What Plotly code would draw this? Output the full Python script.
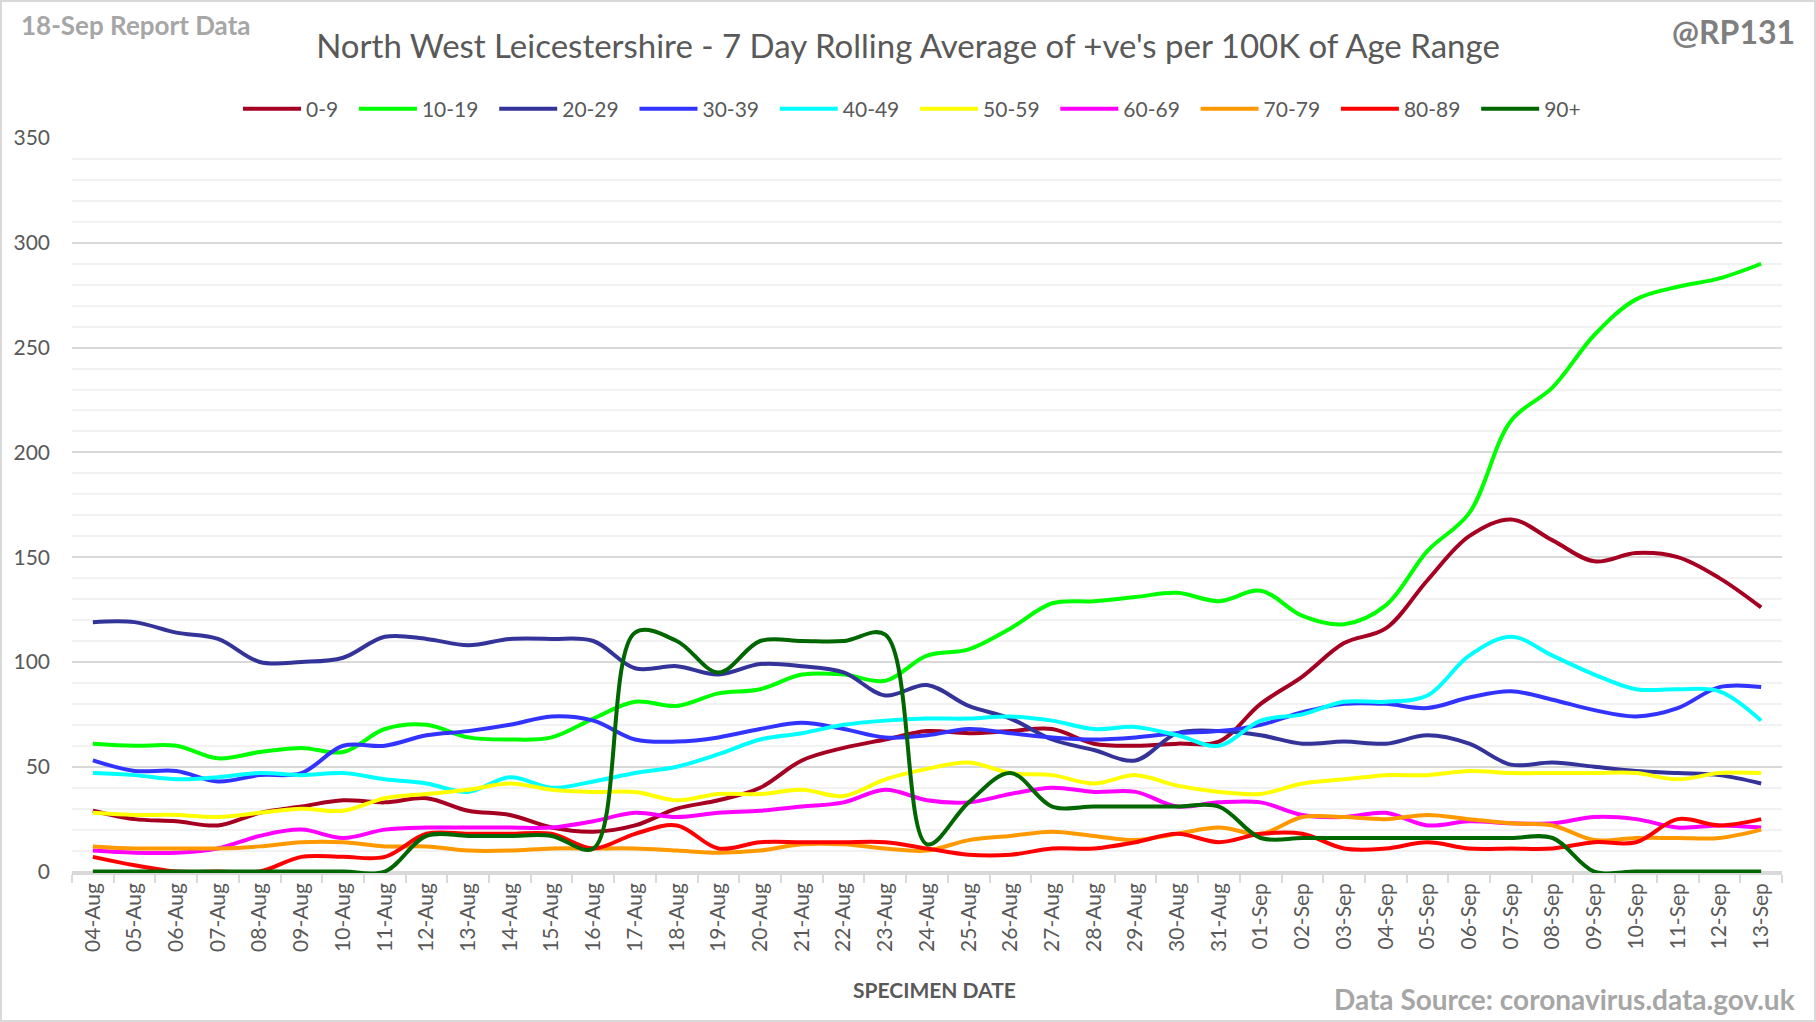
import plotly.graph_objects as go

# ---------------- data ----------------
dates = ["04-Aug", "05-Aug", "06-Aug", "07-Aug", "08-Aug", "09-Aug", "10-Aug",
         "11-Aug", "12-Aug", "13-Aug", "14-Aug", "15-Aug", "16-Aug", "17-Aug",
         "18-Aug", "19-Aug", "20-Aug", "21-Aug", "22-Aug", "23-Aug", "24-Aug",
         "25-Aug", "26-Aug", "27-Aug", "28-Aug", "29-Aug", "30-Aug", "31-Aug",
         "01-Sep", "02-Sep", "03-Sep", "04-Sep", "05-Sep", "06-Sep", "07-Sep",
         "08-Sep", "09-Sep", "10-Sep", "11-Sep", "12-Sep", "13-Sep"]

age_0_9 = [29, 25, 24, 22, 28, 31, 34, 33, 35, 29, 27, 21, 19, 22, 30, 34, 40, 53, 59, 63, 67,
           66, 67, 68, 61, 60, 61, 62, 80, 93, 109, 116, 139, 160, 168, 158, 148, 152, 150, 140, 126]
age_10_19 = [61, 60, 60, 54, 57, 59, 57, 68, 70, 64, 63, 64, 73, 81, 79, 85, 87, 94, 94, 91, 103,
             106, 116, 128, 129, 131, 133, 129, 134, 122, 118, 127, 153, 171, 215, 231, 256, 273, 279, 283, 290]
age_20_29 = [119, 119, 114, 111, 100, 100, 102, 112, 111, 108, 111, 111, 110, 97, 98, 94, 99, 98, 95, 84, 89,
             79, 73, 63, 58, 53, 66, 67, 65, 61, 62, 61, 65, 61, 51, 52, 50, 48, 47, 46, 42]
age_30_39 = [53, 48, 48, 43, 46, 47, 60, 60, 65, 67, 70, 74, 72, 63, 62, 64, 68, 71, 68, 64, 65,
             68, 66, 64, 63, 64, 66, 67, 70, 76, 80, 80, 78, 83, 86, 82, 77, 74, 78, 88, 88]
age_40_49 = [47, 46, 44, 45, 47, 46, 47, 44, 42, 38, 45, 40, 43, 47, 50, 56, 63, 66, 70, 72, 73,
             73, 74, 72, 68, 69, 65, 60, 72, 75, 81, 81, 84, 103, 112, 103, 94, 87, 87, 86, 72]
age_50_59 = [28, 27, 27, 26, 28, 30, 29, 35, 37, 39, 42, 39, 38, 38, 34, 37, 37, 39, 36, 44, 49,
             52, 47, 46, 42, 46, 41, 38, 37, 42, 44, 46, 46, 48, 47, 47, 47, 47, 44, 47, 47]
age_60_69 = [10, 9, 9, 11, 17, 20, 16, 20, 21, 21, 21, 21, 24, 28, 26, 28, 29, 31, 33, 39, 34,
             33, 37, 40, 38, 38, 31, 33, 33, 27, 26, 28, 22, 24, 23, 23, 26, 25, 21, 22, 21]
age_70_79 = [12, 11, 11, 11, 12, 14, 14, 12, 12, 10, 10, 11, 11, 11, 10, 9, 10, 13, 13, 11, 10,
             15, 17, 19, 17, 15, 18, 21, 18, 26, 26, 25, 27, 25, 23, 22, 15, 16, 16, 16, 20]
age_80_89 = [7, 3, 0, 0, 0, 7, 7, 7, 18, 18, 18, 18, 11, 18, 22, 11, 14, 14, 14, 14, 11,
             8, 8, 11, 11, 14, 18, 14, 18, 18, 11, 11, 14, 11, 11, 11, 14, 14, 25, 22, 25]
age_90_plus = [0, 0, 0, 0, 0, 0, 0, 0, 17, 17, 17, 17, 11, 114, 110, 95, 110, 110, 110, 113, 13,
               33, 47, 31, 31, 31, 31, 31, 16, 16, 16, 16, 16, 16, 16, 16, 0, 0, 0, 0, 0]

series_names = ["0-9", "10-19", "20-29", "30-39", "40-49", "50-59", "60-69", "70-79", "80-89", "90+"]
series_values = [age_0_9, age_10_19, age_20_29, age_30_39, age_40_49,
                 age_50_59, age_60_69, age_70_79, age_80_89, age_90_plus]
series_colors = ["#A50021", "#00FF00", "#333399", "#3333FF", "#00FFFF",
                 "#FFFF00", "#FF00FF", "#FF9900", "#FF0000", "#006600"]

# ---------------- layout geometry ----------------
W, H = 1816, 1022
L, R, T, B = 72, 34, 138, 149
PW, PH = W - L - R, H - T - B


def px_x(px):
    return (px - L) / PW


def px_y(py):
    return (H - B - py) / PH


FONT = "Lato"
DARK = "#595959"
LIGHT = "#A6A6A6"
PAD = "\u00a0\u00a0"  # trailing space after each legend label (Excel-like spacing)

fig = go.Figure()
for name, vals, col in zip(series_names, series_values, series_colors):
    fig.add_trace(go.Scatter(
        x=dates, y=vals, name=name + PAD, mode="lines",
        line=dict(color=col, width=4, shape="spline", smoothing=1.0),
        hovertemplate=name + ": %{y}<extra></extra>",
    ))

fig.update_layout(
    width=W, height=H, autosize=False,
    margin=dict(l=L, r=R, t=T, b=B, pad=0),
    paper_bgcolor="white", plot_bgcolor="white",
    font=dict(family=FONT, color=DARK, size=20),
    title=dict(
        text="North West Leicestershire - 7 Day Rolling Average of +ve's per 100K of Age Range",
        x=0.5, xref="container", xanchor="center",
        y=1 - 46 / H, yref="container", yanchor="middle",
        font=dict(family=FONT, size=33, color=DARK),
    ),
    showlegend=True,
    legend=dict(
        orientation="h", x=px_x(238), xanchor="left", y=px_y(109), yanchor="middle",
        font=dict(family=FONT, size=21, color=DARK), itemwidth=58,
        bgcolor="rgba(0,0,0,0)", itemclick=False, itemdoubleclick=False,
    ),
    xaxis=dict(
        type="category", range=[-0.5, len(dates) - 0.5],
        showgrid=False, zeroline=False,
        showline=True, linecolor="#D9D9D9", linewidth=1.5,
        ticks="outside", tickson="boundaries", ticklen=8, tickcolor="#D9D9D9", tickwidth=1.5,
        tickangle=-90, tickfont=dict(family=FONT, size=21, color=DARK),
        fixedrange=True,
    ),
    yaxis=dict(
        range=[-0.7, 350], tickmode="linear", tick0=0, dtick=50,
        showgrid=True, gridcolor="#D9D9D9", gridwidth=1.5,
        zeroline=False, showline=False, ticks="",
        minor=dict(dtick=10, tick0=0, showgrid=True, gridcolor="#F2F2F2", gridwidth=1.5),
        tickfont=dict(family=FONT, size=21, color=DARK),
        ticklabelstandoff=21,
        fixedrange=True,
    ),
    annotations=[
        dict(text="<b>18-Sep Report Data</b>", xref="paper", yref="paper",
             x=px_x(19), y=px_y(25), xanchor="left", yanchor="middle", showarrow=False,
             font=dict(family=FONT, size=26, color=LIGHT)),
        dict(text="<b>@RP131</b>", xref="paper", yref="paper",
             x=px_x(1797), y=px_y(32), xanchor="right", yanchor="middle", showarrow=False,
             font=dict(family=FONT, size=32, color="#7F7F7F")),
        dict(text="<b>Data Source: coronavirus.data.gov.uk</b>", xref="paper", yref="paper",
             x=px_x(1797), y=px_y(999), xanchor="right", yanchor="middle", showarrow=False,
             font=dict(family=FONT, size=28, color=LIGHT)),
        dict(text="<b>SPECIMEN DATE</b>", xref="paper", yref="paper",
             x=px_x(934), y=px_y(990), xanchor="center", yanchor="middle", showarrow=False,
             font=dict(family=FONT, size=21, color=DARK)),
    ],
    shapes=[
        dict(type="rect", xref="paper", yref="paper",
             x0=px_x(1), x1=px_x(W - 1), y0=px_y(H - 1), y1=px_y(1),
             line=dict(color="#D9D9D9", width=2), fillcolor="rgba(0,0,0,0)", layer="below"),
    ],
)

fig.write_html(
    "out.html",
    config={"displayModeBar": False},
    post_script="document.body.style.margin='0';document.body.style.overflow='hidden';",
)
